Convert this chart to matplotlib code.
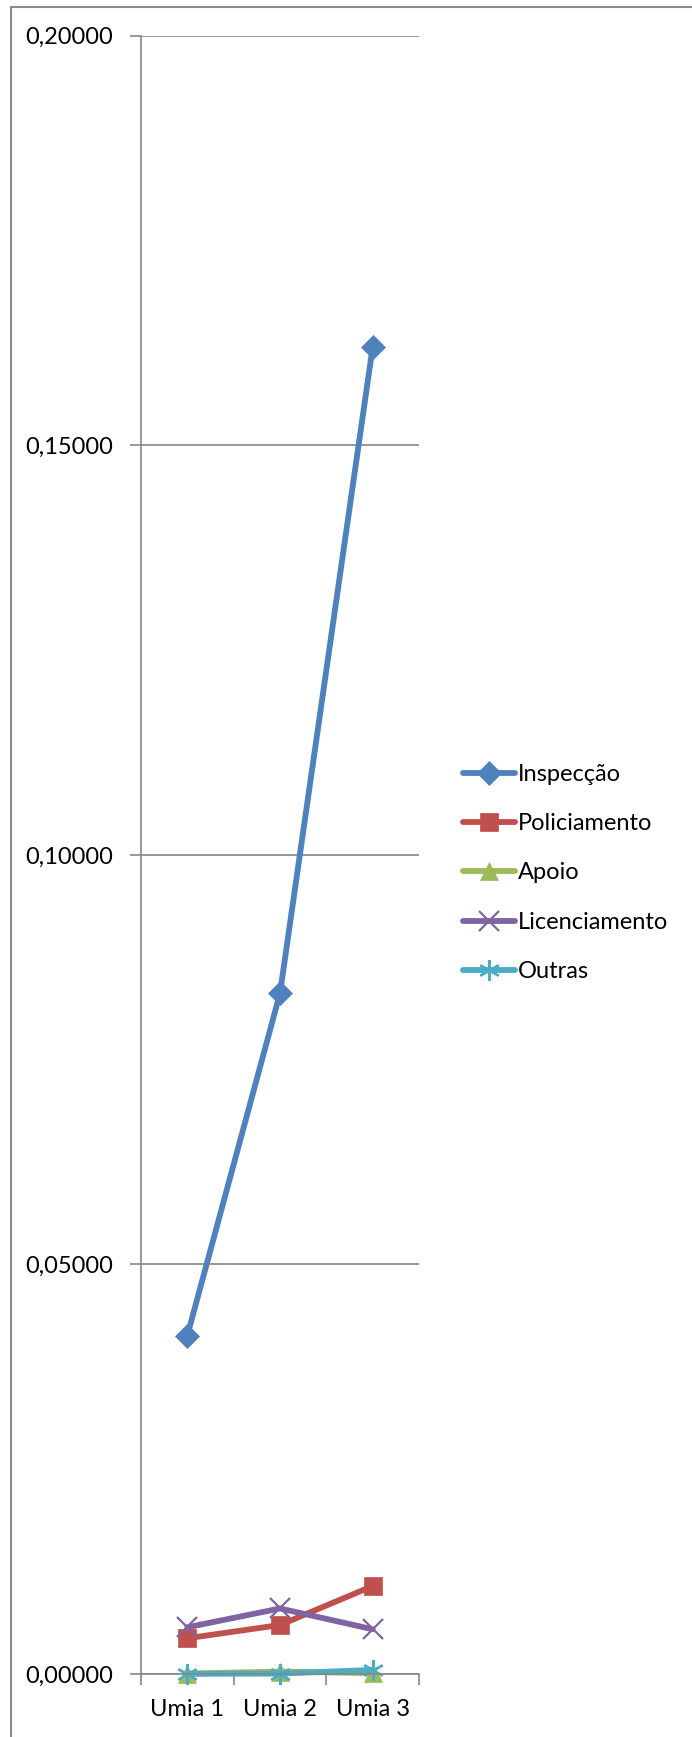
import numpy as np
import matplotlib.pyplot as plt
from matplotlib.patches import Rectangle
from matplotlib.ticker import FuncFormatter, MultipleLocator

# Data
categories = ["Umia 1", "Umia 2", "Umia 3"]
inspeccao = [0.04132, 0.0831, 0.1620]
policiamento = [0.00436, 0.00598, 0.01074]
apoio = [0.00005, 0.0003, 0.0001]
licenciamento = [0.0057, 0.0080, 0.00546]
outras = [0.00002, 0.00005, 0.0005]

series_names = ["Inspecção", "Policiamento", "Apoio", "Licenciamento", "Outras"]
series_values = [inspeccao, policiamento, apoio, licenciamento, outras]
colors = ["#4F81BD", "#C0504D", "#9BBB59", "#8064A2", "#4BACC6"]
markers = ["D", "s", "^", "x", (6, 2, 0)]
msizes = [12, 12.5, 13, 14, 15]

plt.rcParams['font.family'] = ['Lato', 'DejaVu Sans']

fig = plt.figure(figsize=(6.92, 17.37), dpi=100)
W, H = 692, 1737

# outer chart border
fig.patches.append(Rectangle((11 / W, -0.01), 1.0, 1 - 7 / H + 0.01,
                             transform=fig.transFigure, fill=False,
                             edgecolor="#8c8c8c", linewidth=1.5))

ax = fig.add_axes([141 / W, 1 - 1674 / H, (419 - 141) / W, (1674 - 35.7) / H])

x = np.arange(len(categories))
for name, vals, c, m, ms in zip(series_names, series_values, colors, markers, msizes):
    thin = m == "x" or isinstance(m, tuple)
    ax.plot(x, vals, color=c, linewidth=4.2, marker=m, markersize=ms,
            markeredgecolor=c, markerfacecolor=c, markeredgewidth=1.6 if thin else 0.5,
            label=name, solid_capstyle="round", clip_on=False)

ax.set_xlim(-0.5, 2.5)
ax.set_ylim(0, 0.2)
ax.yaxis.set_major_locator(MultipleLocator(0.05))
ax.yaxis.set_major_formatter(FuncFormatter(lambda v, p: f"{v:.5f}".replace(".", ",")))
ax.set_xticks(x)
ax.set_xticklabels(categories)
ax.set_xticks([-0.5, 0.5, 1.5, 2.5], minor=True)
ax.tick_params(axis="x", which="major", length=0, labelsize=17, pad=18)
ax.tick_params(axis="x", which="minor", length=8, color="#868686", width=1.2)
ax.tick_params(axis="y", length=8, color="#868686", width=1.2, labelsize=17, pad=12)

ax.grid(axis="y", color="#868686", linewidth=1.2)
ax.set_axisbelow(True)
for s in ["top", "right"]:
    ax.spines[s].set_visible(False)
for s in ["left", "bottom"]:
    ax.spines[s].set_color("#868686")
    ax.spines[s].set_linewidth(1.2)

leg = ax.legend(loc="center left", bbox_to_anchor=(451 / W, 1 - 873 / H),
                bbox_transform=fig.transFigure, frameon=False, fontsize=17,
                handlelength=2.2, handletextpad=0.15, labelspacing=1.2, borderpad=0)

fig.savefig("out.png", dpi=100)
